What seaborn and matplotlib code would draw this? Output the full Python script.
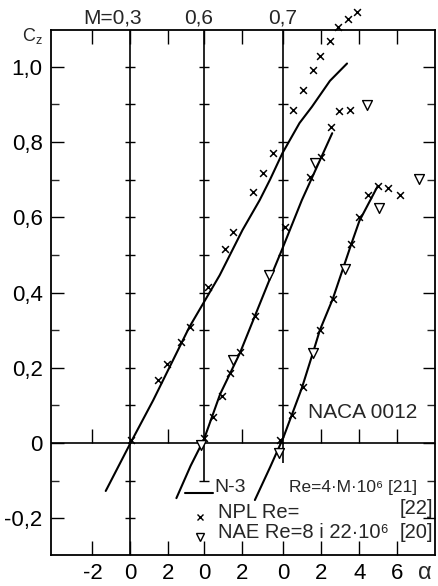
import numpy as np
import pandas as pd
import matplotlib
matplotlib.use("Agg")
import matplotlib.pyplot as plt
import matplotlib.transforms as mtransforms
import seaborn as sns

# ---------------- data (each Mach number on its own alpha axis) ----------------
mach_labels = ["M=0,3", "0,6", "0,7"]

# N-3 calculated curves
line03_alpha = [-1.3, 0.0, 1.2, 3.1, 4.7, 5.9, 6.8, 7.35, 8.0, 8.9, 9.55, 10.5, 11.4]
line03_cz = [-0.127, 0.0, 0.114, 0.308, 0.446, 0.566, 0.645, 0.70, 0.77, 0.85, 0.893, 0.962, 1.008]
line06_alpha = [-1.45, -0.7, 0.0, 0.85, 1.9, 2.7, 3.5, 4.1, 5.15, 6.75]
line06_cz = [-0.146, -0.06, 0.01, 0.13, 0.24, 0.34, 0.44, 0.513, 0.645, 0.823]
line07_alpha = [-1.5, -0.7, 0.0, 0.97, 1.55, 1.92, 2.6, 3.55, 4.0, 4.97]
line07_cz = [-0.151, -0.064, 0.015, 0.146, 0.239, 0.300, 0.383, 0.525, 0.59, 0.683]

# NPL measurements (x)
npl03_alpha = [0.03, 1.45, 1.92, 2.66, 3.13, 4.08, 4.97, 5.39, 6.45, 6.97, 7.5, 8.55,
               9.08, 9.6, 9.97, 10.5, 10.92, 11.45, 11.92]
npl03_cz = [0.008, 0.167, 0.210, 0.268, 0.308, 0.414, 0.515, 0.560, 0.667, 0.717, 0.770,
            0.884, 0.938, 0.991, 1.028, 1.068, 1.105, 1.126, 1.145]
npl06_alpha = [0.0, 0.47, 0.95, 1.37, 1.89, 2.68, 4.26, 5.58, 6.16, 6.68, 7.11, 7.68]
npl06_cz = [0.013, 0.069, 0.125, 0.186, 0.242, 0.337, 0.574, 0.707, 0.760, 0.839, 0.882, 0.884]
npl07_alpha = [-0.18, 0.45, 1.03, 1.92, 2.6, 3.55, 3.97, 4.45, 4.97, 5.5, 6.13]
npl07_cz = [0.008, 0.074, 0.149, 0.300, 0.382, 0.529, 0.600, 0.659, 0.683, 0.677, 0.659]

# NAE measurements (open triangles)
nae06_alpha = [-0.16, 1.53, 3.42, 5.84, 8.58]
nae06_cz = [-0.005, 0.220, 0.446, 0.744, 0.898]
nae07_alpha = [-0.24, 1.55, 3.24, 5.03, 7.13]
nae07_cz = [-0.027, 0.239, 0.462, 0.624, 0.701]

yticks = [-0.2, 0.0, 0.2, 0.4, 0.6, 0.8, 1.0]
ytick_labels = ["-0,2", "0", "0,2", "0,4", "0,6", "0,8", "1,0"]
alpha_ticks = [-2, 0, 2, 0, 2, 0, 2, 4, 6]          # printed tick values
alpha_tick_axis = [0, 0, 0, 1, 1, 2, 2, 2, 2]       # which Mach axis each belongs to

# ---------------- layout (origin shift of each Mach axis) ----------------
origin = [0.0, 3.87, 8.05]

sns.set_style("ticks")
plt.rcParams["font.family"] = ["Liberation Sans", "DejaVu Sans"]
plt.rcParams["mathtext.fontset"] = "custom"
plt.rcParams["mathtext.rm"] = "Liberation Sans"

fig = plt.figure(figsize=(4.39, 5.86), dpi=100)
ax = fig.add_axes([51 / 439, 1 - 555 / 586, (435 - 51) / 439, (555 - 30) / 586])
ax.set_xlim(-4.18, 16.03)
ax.set_ylim(-0.297, 1.097)

def shifted(a, k):
    return [v + origin[k] for v in a]

lines = pd.concat([
    pd.DataFrame({"x": shifted(line03_alpha, 0), "cz": line03_cz, "M": "0.3"}),
    pd.DataFrame({"x": shifted(line06_alpha, 1), "cz": line06_cz, "M": "0.6"}),
    pd.DataFrame({"x": shifted(line07_alpha, 2), "cz": line07_cz, "M": "0.7"}),
])
npl = pd.concat([
    pd.DataFrame({"x": shifted(npl03_alpha, 0), "cz": npl03_cz}),
    pd.DataFrame({"x": shifted(npl06_alpha, 1), "cz": npl06_cz}),
    pd.DataFrame({"x": shifted(npl07_alpha, 2), "cz": npl07_cz}),
])
nae = pd.concat([
    pd.DataFrame({"x": shifted(nae06_alpha, 1), "cz": nae06_cz}),
    pd.DataFrame({"x": shifted(nae07_alpha, 2), "cz": nae07_cz}),
])

# reference axes inside the plot
ylo, yhi = ax.get_ylim()
ax.axhline(0, color="k", lw=1.2, zorder=1)
ax.vlines(origin[0], ylo, yhi, color="k", lw=1.2, zorder=1)
ax.vlines(origin[1], -0.104, yhi, color="k", lw=1.2, zorder=1)
ax.vlines(origin[2], -0.053, yhi, color="k", lw=1.2, zorder=1)
cross = np.round(np.arange(-0.2, 1.01, 0.1), 2)
for k, lo in zip(range(3), [-0.2, -0.1, 0.1]):
    c = [v for v in cross if v >= lo and v != 0]
    ax.plot([origin[k]] * len(c), c, ls="none", marker="_", ms=7, mew=1.0, color="k")
xt = [origin[k] + v for k, v in zip(alpha_tick_axis, alpha_ticks)]
zt = [t for t, v in zip(xt, alpha_ticks) if v != 0]
ax.plot(zt, [0] * len(zt), ls="none", marker=2, ms=10, mew=1.0, color="k")

sns.lineplot(data=lines, x="x", y="cz", units="M", estimator=None, sort=False,
             color="k", lw=1.5, ax=ax, legend=False)
sns.scatterplot(data=npl, x="x", y="cz", marker="x", color="k", s=24,
                linewidth=1.1, ax=ax, clip_on=False, zorder=5, legend=False)
sns.scatterplot(data=nae, x="x", y="cz", marker="v", s=50, facecolor="white",
                edgecolor="k", linewidth=1.0, ax=ax, zorder=6, legend=False)

# axes styling
for s in ax.spines.values():
    s.set_linewidth(1.3)
    s.set_color("k")
ax.set_xticks(xt)
ax.set_xticklabels([str(v) for v in alpha_ticks])
ax.set_yticks(yticks)
ax.set_yticklabels(ytick_labels)
ax.set_yticks(np.arange(-0.2, 1.01, 0.1), minor=True)
ax.tick_params(axis="both", which="major", direction="in", length=10, width=1.0,
               labelsize=16, top=True, right=True, pad=6, colors="k")
ax.tick_params(axis="y", which="minor", direction="in", length=6, width=1.0,
               left=True, right=True)
ax.tick_params(axis="y", which="major", length=9)
ax.set_xlabel("")
ax.set_ylabel("")

# texts
trans_top = mtransforms.blended_transform_factory(ax.transData, ax.transAxes)
ax.text(origin[0] + 0.6, 1.005, mach_labels[0], transform=trans_top, ha="right",
        va="bottom", fontsize=15)
ax.text(origin[1] - 0.3, 1.005, mach_labels[1], transform=trans_top, ha="center",
        va="bottom", fontsize=15)
ax.text(origin[2] - 0.05, 1.005, mach_labels[2], transform=trans_top, ha="center",
        va="bottom", fontsize=15)
fig.text(22 / 439, 1 - 36 / 586, r"C$_\mathregular{z}$", fontsize=13, ha="left", va="center")
ax.text(15.5, -0.345, "α", fontsize=17, ha="center", va="center")

ax.text(9.34, 0.082, "NACA 0012", fontsize=15, ha="left", va="center")

# legend block
ax.plot([2.87, 4.34], [-0.133, -0.133], color="k", lw=1.5)
ax.text(4.4, -0.117, "N-3", fontsize=14, ha="left", va="center")
ax.text(15.1, -0.117, "Re=4·M·10⁶ [21]", fontsize=12.5, ha="right", va="center")
ax.plot([3.66], [-0.197], ls="none", marker="x", ms=5, mew=1.0, color="k")
ax.text(4.6, -0.183, "NPL Re=", fontsize=14.5, ha="left", va="center")
ax.text(15.92, -0.173, "[22]", fontsize=14.5, ha="right", va="center")
ax.plot([3.66], [-0.25], ls="none", marker="v", ms=6, mew=1.0, mfc="white", color="k")
ax.text(4.6, -0.236, "NAE Re=8 i 22·10⁶", fontsize=14.5, ha="left", va="center")
ax.text(15.92, -0.236, "[20]", fontsize=14.5, ha="right", va="center")

fig.savefig("out.png", dpi=100, facecolor="white")
